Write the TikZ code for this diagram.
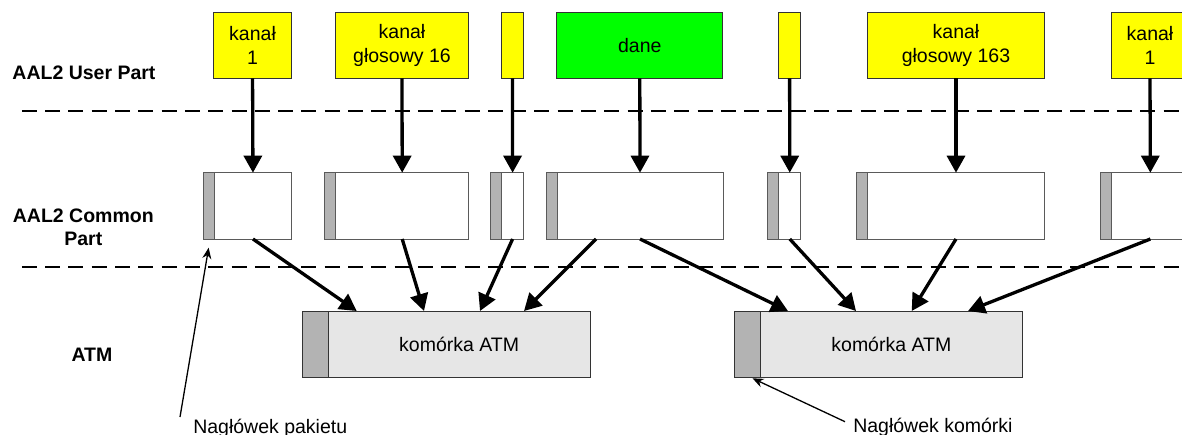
\documentclass[tikz,border=0pt]{standalone}
\usepackage{fontspec}
\setmainfont{Liberation Sans}
\usetikzlibrary{arrows.meta,calc}
\definecolor{fillyellow}{RGB}{255,255,0}
\definecolor{fillgreen}{RGB}{0,255,0}
\definecolor{hdrgray}{RGB}{179,179,179}
\definecolor{cellgray}{RGB}{230,230,230}
\definecolor{edgegray}{RGB}{90,90,90}
\begin{document}
\begin{tikzpicture}[x=1pt,y=-1pt,
  every node/.style={inner sep=0pt, outer sep=0pt, font=\fontsize{19.5}{24}\selectfont},
  userbox/.style={draw=black!80, line width=1pt, align=center, anchor=north west, minimum height=66pt},
  voice/.style={userbox, fill=fillyellow},
  data/.style={userbox, fill=fillgreen},
  pkt/.style={draw=edgegray, line width=1pt, fill=white, anchor=north west, minimum height=66.3pt},
  hdr/.style={draw=edgegray, line width=1pt, fill=hdrgray, anchor=north east, minimum height=66.3pt},
  cell/.style={draw=black!80, line width=1pt, fill=cellgray, anchor=north west, minimum height=66.3pt},
  cellhdr/.style={draw=black!80, line width=1pt, fill=hdrgray, anchor=north east, minimum height=66.3pt},
  layer/.style={font=\bfseries\fontsize{19.5}{22.7}\selectfont, align=center, anchor=base},
  note/.style={anchor=base west},
  flow/.style={line width=3.3pt, -{Triangle[length=17pt,width=18pt]}},
  pointer/.style={line width=1.3pt, -{Stealth[length=11pt,width=9pt]}},
  sep/.style={line width=2pt, dash pattern=on 15pt off 8.3pt}
]
\useasboundingbox (0,0) rectangle (1182,434);

% layer names
\node[layer] (lu) at (84,79) {AAL2 User Part};
\node[layer] (lc) at (83.3,245) {AAL2 Common\\Part};
\node[layer] (la) at (92,361.7) {ATM};

% layer separators
\draw[sep] (21.8,111) -- (1182,111);
\draw[sep] (21.8,266.7) -- (1182,266.7);

% user-part channels
\node[voice, minimum width=78.1pt]  (u1) at (213.5,12.3)  {kanał\\1};
\node[voice, minimum width=133.6pt] (u2) at (335.2,12.3)  {kanał\\głosowy 16};
\node[voice, minimum width=22.2pt]  (u3) at (501.3,12.3)  {};
\node[data,  minimum width=166pt]   (u4) at (556.8,12.3)  {dane};
\node[voice, minimum width=22.2pt]  (u5) at (778.5,12.3)  {};
\node[voice, minimum width=177pt]   (u6) at (867.5,12.3)  {kanał\\głosowy 163};
\node[voice, minimum width=78pt]    (u7) at (1111,12.3)   {kanał\\1};

% common-part packets: payload with header on the left
\node[pkt, minimum width=77.3pt]  (c1) at (214.3,172.7) {};
\node[pkt, minimum width=133.2pt] (c2) at (335.6,172.7) {};
\node[pkt, minimum width=21.8pt]  (c3) at (501.7,172.7) {};
\node[pkt, minimum width=166pt]   (c4) at (557,172.7)   {};
\node[pkt, minimum width=21.9pt]  (c5) at (778.8,172.7) {};
\node[pkt, minimum width=177pt]   (c6) at (867.5,172.7) {};
\node[pkt, minimum width=77.3pt]  (c7) at (1111.7,172.7) {};
\node[hdr, minimum width=11.3pt] (h1) at (c1.north west) {};
\node[hdr, minimum width=11.1pt] (h2) at (c2.north west) {};
\node[hdr, minimum width=11.1pt] (h3) at (c3.north west) {};
\node[hdr, minimum width=10.8pt] (h4) at (c4.north west) {};
\node[hdr, minimum width=11.5pt] (h5) at (c5.north west) {};
\node[hdr, minimum width=11.3pt] (h6) at (c6.north west) {};
\node[hdr, minimum width=11pt]   (h7) at (c7.north west) {};

% ATM cells
\node[cell, minimum width=261.7pt] (a1) at (328.3,311) {komórka ATM};
\node[cell, minimum width=261.3pt] (a2) at (760.7,311) {komórka ATM};
\node[cellhdr, minimum width=25.6pt] (ah1) at (a1.north west) {};
\node[cellhdr, minimum width=26.4pt] (ah2) at (a2.north west) {};

% user part -> common part
\foreach \i in {1,...,7}{
  \draw[flow] (u\i.south) -- (c\i.north);
}

% common part -> ATM cells
\draw[flow] (c1.south) -- ([xshift=28.4pt]a1.north west);
\draw[flow] (c2.south) -- ([xshift=95.7pt]a1.north west);
\draw[flow] (c3.south) -- ([xshift=151.7pt]a1.north west);
\draw[flow] ([xshift=39pt]c4.south west) -- ([xshift=195.7pt]a1.north west);
\draw[flow] (c4.south) -- ([xshift=27.3pt]a2.north west);
\draw[flow] (c5.south) -- ([xshift=95.3pt]a2.north west);
\draw[flow] (c6.south) -- ([xshift=151pt]a2.north west);
\draw[flow] (c7.south) -- ([xshift=207.3pt]a2.north west);

% header annotations
\node[note] (np) at (193.3,433.5) {Nagłówek pakietu};
\node[note] (nk) at (853.3,432) {Nagłówek komórki};
\coordinate (pt1) at (180,417);
\coordinate (pt2) at (845,421.7);
\draw[pointer] (pt1) -- ([yshift=-8.7pt]h1.south);
\draw[pointer] (pt2) -- ([xshift=5pt,yshift=-1pt]ah2.south);
\end{tikzpicture}
\end{document}
